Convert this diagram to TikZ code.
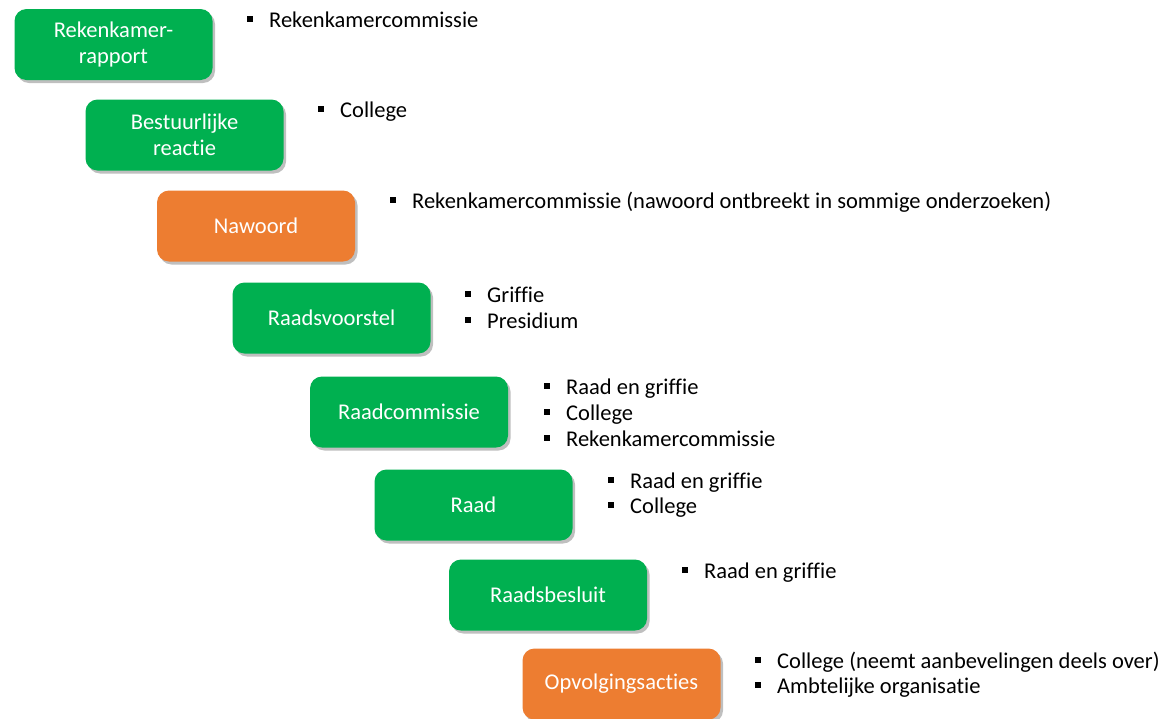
\documentclass[tikz,border=0pt]{standalone}
\usepackage{fontspec}
\setmainfont{Carlito}[Ligatures={NoCommon}]
\usetikzlibrary{shadows}
\definecolor{boxgreen}{HTML}{00B050}
\definecolor{boxorange}{HTML}{ED7D31}
\newcommand{\bsq}{\makebox[22pt][l]{\rule[5pt]{6pt}{6pt}}}
\tikzset{
  stage/.style={rounded corners=12pt, minimum width=198pt, minimum height=71pt,
    text=white, align=center, inner sep=2pt,
    font=\fontsize{22.5}{26.5}\selectfont,
    drop shadow={shadow xshift=2.5pt, shadow yshift=-3pt, opacity=0.25, fill=black}},
  green stage/.style={stage, fill=boxgreen},
  orange stage/.style={stage, fill=boxorange},
  item/.style={anchor=base west, inner sep=0pt, text=black, font=\fontsize{22.5}{26}\selectfont}
}
\begin{document}
\begin{tikzpicture}[x=1pt, y=-1pt]
\useasboundingbox (0,0) rectangle (1165,718);
\fill[white] (0,0) rectangle (1165,718);

\node[green stage]  (s1) at (113.5,44.5) {Rekenkamer-\\rapport};
\node[green stage]  (s2) at (184.5,135)  {Bestuurlijke\\reactie};
\node[orange stage] (s3) at (256,226)    {Nawoord};
\node[green stage]  (s4) at (331.5,318)  {Raadsvoorstel};
\node[green stage]  (s5) at (409,412)    {Raadcommissie};
\node[green stage]  (s6) at (473.5,505)  {Raad};
\node[green stage]  (s7) at (548,595)    {Raadsbesluit};
\node[orange stage] (s8) at (621.5,684)  {Opvolgingsacties};

\node[item] (l1a) at (247,27)  {\bsq Rekenkamercommissie};
\node[item] (l2a) at (318,117) {\bsq College};
\node[item] (l3a) at (390,208) {\bsq Rekenkamercommissie (nawoord ontbreekt in sommige onderzoeken)};
\node[item] (l4a) at (465,302) {\bsq Griffie};
\node[item] (l4b) at (465,328) {\bsq Presidium};
\node[item] (l5a) at (544,394) {\bsq Raad en griffie};
\node[item] (l5b) at (544,420) {\bsq College};
\node[item] (l5c) at (544,446) {\bsq Rekenkamercommissie};
\node[item] (l6a) at (608,488) {\bsq Raad en griffie};
\node[item] (l6b) at (608,513) {\bsq College};
\node[item] (l7a) at (682,578) {\bsq Raad en griffie};
\node[item] (l8a) at (755,668) {\bsq College (neemt aanbevelingen deels over)};
\node[item] (l8b) at (755,693) {\bsq Ambtelijke organisatie};
\end{tikzpicture}
\end{document}
